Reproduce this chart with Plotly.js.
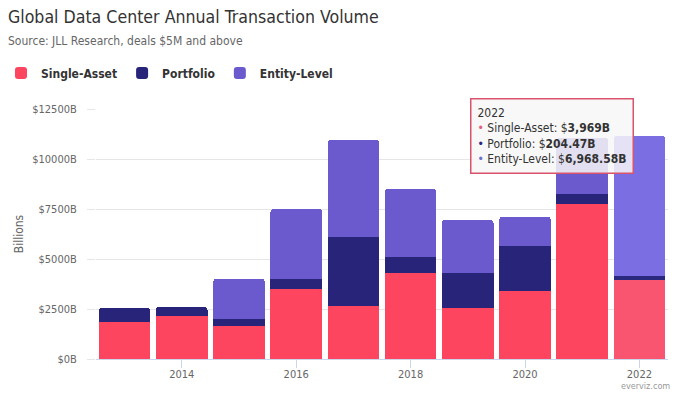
<!DOCTYPE html>
<html>
<head>
<meta charset="utf-8">
<script src="https://cdn.plot.ly/plotly-3.0.1.min.js"></script>
<style>html,body{margin:0;padding:0;background:#fff;}#chart{width:679px;height:393px;}</style>
</head>
<body>
<div id="chart"></div>
<script>
const years = [2013, 2014, 2015, 2016, 2017, 2018, 2019, 2020, 2021, 2022];
const singleAsset = [1850, 2150, 1650, 3480, 2650, 4300, 2550, 3400, 7750, 3969];
const portfolio   = [700, 450, 350, 530, 3450, 800, 1750, 2250, 500, 204.47];
const entityLevel = [0, 0, 2000, 3490, 4850, 3400, 2650, 1450, 2800, 6968.58];
const xTicks = [2014, 2016, 2018, 2020, 2022];
const yTicks = [0, 2500, 5000, 7500, 10000, 12500];

const C_SINGLE = '#fd4560', C_PORT = '#27247a', C_ENTITY = '#6a5acd';
const hoverIdx = years.length - 1;
const colorArr = (base, hov) => years.map((_, i) => i === hoverIdx ? hov : base);

const FONT = 'Tahoma, "DejaVu Sans Condensed", "DejaVu Sans", sans-serif';

const traces = [
  {type: 'bar', name: 'Single-Asset', x: years, y: singleAsset,
   marker: {color: colorArr(C_SINGLE, '#f95570')}},
  {type: 'bar', name: 'Portfolio', x: years, y: portfolio,
   marker: {color: colorArr(C_PORT, '#2b2880')}},
  {type: 'bar', name: 'Entity-Level', x: years, y: entityLevel,
   marker: {color: colorArr(C_ENTITY, '#7b6ee3')}}
];

const fmt = v => '$<b>' + v.toLocaleString('en-US', {maximumFractionDigits: 2}) + 'B</b>';
const dot = c => "<span style='color:" + c + "'>•</span>";
const tipText = years[hoverIdx] +
  '<br>' + dot('#e0607a') + ' Single-Asset: ' + fmt(singleAsset[hoverIdx]) +
  '<br>' + dot(C_PORT) + ' Portfolio: ' + fmt(portfolio[hoverIdx]) +
  '<br>' + dot('#6f6fc9') + ' Entity-Level: ' + fmt(entityLevel[hoverIdx]);

const layout = {
  width: 679, height: 393,
  margin: {l: 96, r: 11, t: 109, b: 34},
  paper_bgcolor: '#ffffff', plot_bgcolor: '#ffffff',
  font: {family: FONT, color: '#333'},
  barmode: 'stack',
  bargap: 0.1,
  barcornerradius: 3,
  title: {text: 'Global Data Center Annual Transaction Volume',
          font: {family: FONT, size: 17.6, color: '#333'},
          x: 8/679, xanchor: 'left', xref: 'container',
          y: 1 - 17/393, yanchor: 'middle', yref: 'container'},
  showlegend: true,
  legend: {orientation: 'h', xref: 'container', yref: 'container',
           x: 1/679, xanchor: 'left', y: 1 - 73/393, yanchor: 'middle',
           font: {family: FONT, size: 12, color: '#333', weight: 'bold'},
           traceorder: 'normal'},
  xaxis: {range: [2012.5, 2022.5], tickvals: xTicks, ticktext: xTicks.map(String),
          ticks: 'outside', ticklen: 8, tickcolor: '#ccd6eb',
          showline: true, linecolor: '#ccd6eb', showgrid: false, zeroline: false,
          ticklabelstandoff: -3,
          tickfont: {family: FONT, size: 11, color: '#666'}, fixedrange: true},
  yaxis: {range: [0, 12500], tickvals: yTicks,
          ticktext: yTicks.map(v => '$' + v + 'B'),
          ticks: 'outside', ticklen: 8, tickcolor: '#e6e6e6',
          gridcolor: '#e6e6e6', zeroline: false, showline: false,
          ticklabelstandoff: 8,
          tickfont: {family: FONT, size: 11, color: '#666'},
          title: {text: 'Billions', font: {family: FONT, size: 12, color: '#666'}, standoff: 6},
          fixedrange: true},
  annotations: [
    {text: 'Source: JLL Research, deals $5M and above', xref: 'paper', yref: 'paper',
     x: (6 - 96)/572, xanchor: 'left', y: (359 - 41)/250, yanchor: 'middle',
     showarrow: false, font: {family: FONT, size: 12, color: '#666'}},
    {text: tipText, xref: 'paper', yref: 'paper', align: 'left',
     x: (470 - 96)/572, xanchor: 'left', y: (359 - 98)/250, yanchor: 'top',
     showarrow: false, bgcolor: 'rgba(247,247,247,0.85)', bordercolor: '#d9536b',
     borderwidth: 1.5, borderpad: 6,
     font: {family: FONT, size: 12, color: '#333'}},
    {text: 'everviz.com', xref: 'paper', yref: 'paper',
     x: (672 - 96)/572, xanchor: 'right', y: (359 - 386)/250, yanchor: 'middle',
     showarrow: false, font: {family: FONT, size: 9, color: '#999'}}
  ]
};

Plotly.newPlot('chart', traces, layout, {displayModeBar: false, staticPlot: true});
</script>
</body>
</html>
